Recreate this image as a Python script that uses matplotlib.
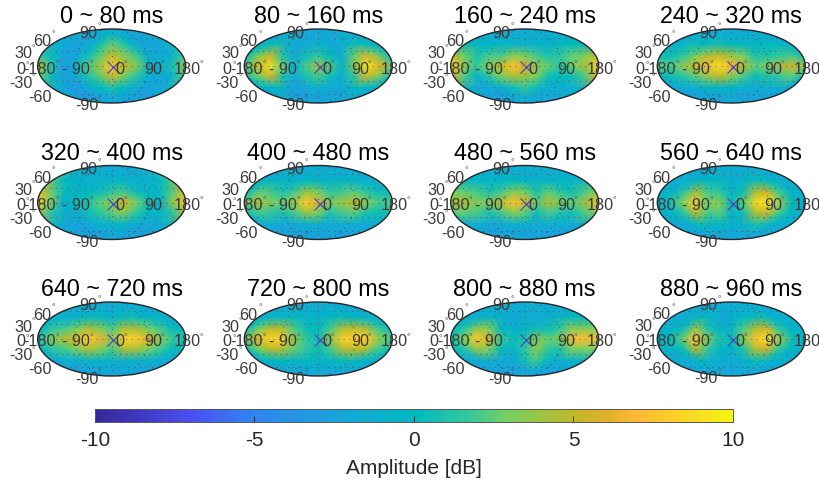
import numpy as np
import matplotlib
matplotlib.use("Agg")
import matplotlib.pyplot as plt
from matplotlib.colors import LinearSegmentedColormap

plt.rcParams['font.family'] = ['Liberation Sans', 'DejaVu Sans']
plt.rcParams['axes.unicode_minus'] = False

titles = ["0 ~ 80 ms", "80 ~ 160 ms", "160 ~ 240 ms", "240 ~ 320 ms",
          "320 ~ 400 ms", "400 ~ 480 ms", "480 ~ 560 ms", "560 ~ 640 ms",
          "640 ~ 720 ms", "720 ~ 800 ms", "800 ~ 880 ms", "880 ~ 960 ms"]
lon_deg = [-180, -150, -120, -90, -60, -30, 0, 30, 60, 90, 120, 150, 180]
lat_deg = [90, 70, 45, 20, 0, -20, -45, -70, -90]
lon_labels = ["-180", "- 90", "0", "90", "180"]
lat_labels = ["90", "60", "30", "0", "-30", "-60", "-90"]
cbar_ticks = [-10, -5, 0, 5, 10]
cbar_label = "Amplitude [dB]"

# one value per panel at each pole (dB)
pole_north = [-1.5, -1.5, -1.5, -1.5, -1.5, -1.5, -1.5, -1.5, -1.5, -1.5, -1.5, -1.5]
pole_south = [-2.0, -2.0, -2.0, -2.0, -2.0, -2.0, -2.0, -2.0, -2.0, -2.0, -2.0, -2.0]

amp_0_80 = [
 [-2,-2,-2,-2,-1.5,-1,-.5,-1,-1.5,-2,-2,-2,-2],
 [-1,-1.5,-2.5,-2,-1,1,2.5,1.5,-.5,-2,-2.5,-2,-1],
 [1.5,0,-2.5,-2,.5,2.5,5,3.5,2,-1,-2,-1,1.5],
 [5,1.5,-3,-1.5,2,4,8,5,3.5,0,-1,1,4],
 [2.5,0,-2.5,-2,1,2.5,5.5,3,1.5,-1,-2,-1,2],
 [-1,-2,-3,-2.5,-1,0,1,0,-1,-2,-2.5,-2,-1],
 [-2,-2.5,-3,-3,-2.5,-2,-2,-2,-2,-2.5,-2.5,-2.5,-2]]
amp_80_160 = [
 [-1.5,-1.5,-1.5,-2,-2,-2,-2,-2,-2,-1.5,-1.5,-1.5,-1.5],
 [-1,0,.5,-1.5,-2,-1.5,-1,-1.5,-2,-.5,.5,0,-1],
 [.5,3.5,5.5,1,-2,.5,1.5,0,-1.5,2.5,5.5,3.5,.5],
 [2,5,9,3,-1,2,4.5,2,-.5,4,9,6,2.5],
 [1,3,5.5,1,-2,1,2,.5,-1,1.5,5.5,3.5,1],
 [-1,-.5,0,-2,-2.5,-1.5,-1,-1.5,-2,-1,0,-.5,-1],
 [-2,-2,-2.5,-3,-3,-2.5,-2.5,-2.5,-2.5,-2.5,-2,-2,-2]]
amp_160_240 = [
 [-1.5,-1.5,-1.5,-1.5,-1.5,-1.5,-1.5,-1.5,-1.5,-1.5,-1.5,-1.5,-1.5],
 [0,0,-.5,-.5,-.5,-1,-1,-1,-.5,-.5,0,0,0],
 [5,2.5,1,2,2,3.5,3,2,1,1.5,2.5,3,5],
 [8,4,1.5,3,5,7.5,6,3.5,2.5,1.5,3,4.5,8.5],
 [5.5,2,-.5,1.5,3,4.5,4,3,.5,0,.5,2,6],
 [0,-1.5,-2.5,-1.5,-.5,.5,1.5,.5,-1,-1.5,-1.5,-1,0],
 [-2,-2.5,-2.5,-2.5,-2,-2,-1.5,-2,-2,-2,-2,-2,-2]]
amp_240_320 = [
 [-1.5,-1.5,-1.5,-1.5,-1.5,-1.5,-1.5,-1.5,-1.5,-1.5,-1.5,-1.5,-1.5],
 [-1,-.5,.5,0,.5,.5,0,0,-.5,-.5,0,-.5,-1],
 [.5,.5,1.5,3,4.5,5,4,3,1,1,1.5,2,1],
 [2.5,2,3.5,5,7,9,7,4.5,2.5,3,4.5,5.5,3.5],
 [0,.5,1.5,2.5,4,5,3.5,2,.5,1,1.5,2.5,1],
 [-2,-1.5,-1.5,-1,-.5,-.5,-.5,-1,-1.5,-1.5,-1.5,-1.5,-2],
 [-2.5,-2.5,-2.5,-2.5,-2.5,-2.5,-2,-2.5,-2.5,-2.5,-2.5,-2.5,-2.5]]
amp_320_400 = [
 [-1,-1.5,-1.5,-1.5,-1.5,-1.5,-1.5,-1.5,-1.5,-1.5,-1.5,-1.5,-1],
 [2.5,0,-.5,-1,-1,-1,-.5,-.5,-1,-1,-1,0,2],
 [6,2.5,0,-.5,0,.5,1.5,2,.5,-.5,-.5,2,5.5],
 [8.5,3.5,-1,0,1,2.5,3.5,5.5,3,.5,0,4,8],
 [4,1,-1.5,-1,.5,1.5,2.5,3.5,1.5,0,-.5,1,4],
 [-.5,-1.5,-2.5,-2.5,-1.5,-1,-1,-.5,-1,-2,-2,-1.5,-.5],
 [-2,-2.5,-2.5,-3,-2.5,-2.5,-2,-2,-2.5,-2.5,-2.5,-2.5,-2]]
amp_400_480 = [
 [-1.5,-1.5,-1.5,-1.5,-1.5,-1.5,-1.5,-1.5,-1.5,-1.5,-1.5,-1.5,-1.5],
 [-1,-.5,-.5,-1,-.5,0,-.5,-1,-.5,-.5,-1,-1,-1],
 [.5,2.5,2,1,2,4,3,1.5,2,2.5,1.5,.5,.5],
 [2.5,4.5,3.5,2.5,4,8,6,3,4,5,3,2,2],
 [.5,2,1.5,1,2,4,3,1,2,2.5,1,.5,.5],
 [-1.5,-1.5,-2,-2,-1.5,-1,-1,-2,-1.5,-1.5,-1.5,-1.5,-1.5],
 [-2.5,-2.5,-2.5,-2.5,-2.5,-2.5,-2.5,-2.5,-2.5,-2.5,-2.5,-2.5,-2.5]]
amp_480_560 = [
 [-1.5,-1.5,-1.5,-1.5,-1.5,-1.5,-1.5,-1.5,-1.5,-1.5,-1.5,-1.5,-1.5],
 [0,-.5,-.5,-.5,-.5,0,-.5,-1,-.5,-.5,-.5,-.5,0],
 [3,2.5,2,1,2,3.5,3,1,2.5,1.5,.5,2,3.5],
 [4.5,4.5,3.5,3,4.5,7.5,6,2.5,4.5,3,2.5,4.5,7],
 [2.5,2.5,2,1,2,3.5,2.5,.5,2,1,.5,2,3.5],
 [-1,-1.5,-2,-2,-1.5,-1,-1,-2,-1.5,-1.5,-1.5,-1.5,-1],
 [-2.5,-2.5,-2.5,-2.5,-2.5,-2.5,-2.5,-2.5,-2.5,-2.5,-2.5,-2.5,-2.5]]
amp_560_640 = [
 [-1.5,-1.5,-1.5,-1.5,-1.5,-1.5,-1.5,-1.5,-1.5,-1.5,-1.5,-1.5,-1.5],
 [-1.5,-1.5,-1,0,-.5,-.5,-1,-1,0,.5,-.5,-1,-1.5],
 [-1,-.5,1.5,4.5,2,1.5,-.5,.5,4.5,5.5,2,-.5,-1],
 [-.5,.5,3,8,3,3.5,.5,2.5,8.5,9.5,3.5,0,-.5],
 [-1,-.5,1.5,5,2,2.5,-.5,.5,4.5,5.5,2,-.5,-1],
 [-1.5,-1.5,-1,.5,-.5,0,-1,-1,.5,1,-.5,-1,-1.5],
 [-2,-2,-2,-2,-2,-2,-2,-2,-2,-2,-2,-2,-2]]
amp_640_720 = [
 [-1.5,-1.5,-1.5,-1.5,-1.5,-1.5,-1.5,-1.5,-1.5,-1.5,-1.5,-1.5,-1.5],
 [-1.5,-1,-1,-.5,0,-.5,-1,0,.5,0,-.5,-1,-1.5],
 [0,1.5,2,3,4.5,3.5,2,4.5,4.5,3,2,.5,0],
 [1,3,4.5,5.5,8,6.5,4,8.5,8,6,3.5,1.5,1],
 [0,1.5,2,3,4.5,3.5,2,4.5,4.5,3,2,.5,0],
 [-1.5,-1.5,-1,-1,-.5,-.5,-1,-1,-.5,-1,-1,-1.5,-1.5],
 [-2,-2.5,-2.5,-2.5,-2,-2,-2,-2.5,-2,-2,-2,-2.5,-2]]
amp_720_800 = [
 [-1.5,-1.5,-1.5,-1.5,-1.5,-1.5,-1.5,-1.5,-1.5,-1.5,-1.5,-1.5,-1.5],
 [-1,-.5,-.5,-.5,-.5,-.5,-.5,-.5,0,0,-.5,-1,-1],
 [.5,3,5,4.5,2,.5,0,2,4.5,5,4.5,2,.5],
 [2.5,6,8.5,8,4,1.5,.5,4,8,8.5,8,3.5,2],
 [.5,3,5,4.5,2.5,1.5,.5,2,4.5,5,4.5,2,.5],
 [-1,-.5,0,0,-.5,0,-.5,-.5,0,.5,0,-.5,-1],
 [-2,-2,-2,-2,-2,-1.5,-1.5,-2,-2,-2,-2,-2,-2]]
amp_800_880 = [
 [-1.5,-1.5,-1.5,-1.5,-1.5,-1.5,-1.5,-1.5,-1.5,-1.5,-1.5,-1.5,-1.5],
 [-1,-1,-.5,-1,-1.5,-2,-1.5,-1.5,-1.5,-1,-.5,0,-.5],
 [0,1.5,4,3,0,-1,-.5,.5,.5,1.5,3.5,3.5,3],
 [1,3,8,6,2,.5,1,3.5,2.5,3.5,7,7.5,7],
 [0,1.5,4,3,0,-.5,1.5,3.5,1.5,1,3,3,3],
 [-1.5,-1.5,-1,-1.5,-2,-1.5,.5,2,.5,-1,-1,-1,-1],
 [-2.5,-2.5,-2.5,-2.5,-2.5,-2.5,-2,-1.5,-2,-2.5,-2.5,-2.5,-2.5]]
amp_880_960 = [
 [-1.5,-1.5,-1.5,-1.5,-1.5,-1.5,-1.5,-1.5,-1.5,-1.5,-1.5,-1.5,-1.5],
 [-1.5,-1.5,-1,0,-1,-2,-1,-.5,0,.5,-.5,-1,-1.5],
 [-1,-.5,.5,4,1,-.5,-.5,2,4.5,5.5,1.5,-.5,-1],
 [-.5,0,2.5,7.5,3.5,1,.5,3.5,7.5,9,3.5,.5,-.5],
 [-1,-.5,.5,5,1.5,-.5,-.5,1,4.5,5.5,1.5,-.5,-1],
 [-1.5,-1.5,-1,0,-1,-1.5,-1.5,-1,0,.5,-.5,-1,-1.5],
 [-2,-2,-2,-2,-2,-2,-2,-2,-2,-2,-2,-2,-2]]

panels = [amp_0_80, amp_80_160, amp_160_240, amp_240_320,
          amp_320_400, amp_400_480, amp_480_560, amp_560_640,
          amp_640_720, amp_720_800, amp_800_880, amp_880_960]

cmap = LinearSegmentedColormap.from_list("amp", [
    (0.00, "#37279a"), (0.15, "#4a50f0"), (0.25, "#2f86f0"), (0.40, "#15a8d8"),
    (0.50, "#00b8c0"), (0.58, "#30c8a0"), (0.65, "#78d060"), (0.75, "#c0b828"),
    (0.80, "#e0b028"), (0.85, "#ffb835"), (0.95, "#f8e020"), (1.00, "#f5f510")])

W, H = 820, 485
fig = plt.figure(figsize=(W / 100, H / 100), dpi=100)

col_x = [111.7, 318.3, 524.7, 731.3]
row_y = [67, 203.5, 340]
AW, AH = 148, 74
INK = "#3a3a3a"

# pixel offsets from the panel centre (x right, y down)
lon_off = [(-71.7, 2), (-35.7, 2), (8.3, 2), (41.5, 2), (75.8, 2)]
lon_ring = [(-54, -5), (-20, -5), (14, -5), (51, -5), (90, -5)]
lat_off = [(-23, -34), (-70, -25), (-88, -13), (-91, 2), (-91, 16), (-72, 30), (-25, 39)]
lat_ring = [(-12, -43), (-58, -35), (-78, -21), (-84, -4), (-78, 8), (-12, 30)]

lon_rad = np.radians(lon_deg)
lat_rad = np.radians(lat_deg)

def label(ax, s, off, size=11.6, color=INK):
    ax.annotate(s, xy=(0.5, 0.5), xycoords='axes fraction', xytext=(off[0], -off[1]),
                textcoords='offset pixels', ha='center', va='center',
                fontsize=size, color=color, annotation_clip=False, zorder=6)

mesh = None
for i, vals in enumerate(panels):
    r, c = divmod(i, 4)
    cx, cy = col_x[c], row_y[r]
    ax = fig.add_axes([(cx - AW / 2) / W, 1 - (cy + AH / 2) / H, AW / W, AH / H],
                      projection='mollweide')
    ax.set_facecolor(cmap(0.42))
    Z = np.array([[pole_north[i]] * 13] + vals + [[pole_south[i]] * 13], dtype=float)
    LON, LAT = np.meshgrid(lon_rad, lat_rad)
    mesh = ax.pcolormesh(LON, LAT, Z, shading='gouraud', cmap=cmap, vmin=-10, vmax=10,
                         rasterized=True)
    ax.set_longitude_grid(90)
    ax.set_latitude_grid(30)
    ax.set_longitude_grid_ends(90)
    ax.grid(True, ls=(0, (1, 6)), lw=0.6, color='#333333')
    ax.set_xticklabels([])
    ax.set_yticklabels([])
    ax.tick_params(length=0)
    ax.spines['geo'].set_linewidth(1.0)
    ax.spines['geo'].set_edgecolor('#262626')
    ax.plot([np.radians(3)], [np.radians(-2)], marker='x', ms=9, mew=0.8, color='#3f3fc4',
            ls='none', zorder=5)
    ax.set_title(titles[i], fontsize=16.8, color='black', pad=5)
    for s, o in zip(lon_labels, lon_off):
        label(ax, s, o)
    for s, o in zip(lat_labels, lat_off):
        label(ax, s, o)
    for o in lon_ring + lat_ring:
        if cx + o[0] > W - 3:
            continue
        ax.annotate("°", xy=(0.5, 0.5), xycoords='axes fraction', xytext=(o[0], -o[1] - 5),
                    textcoords='offset pixels', ha='center', va='baseline', fontsize=6.5,
                    color='#555555', annotation_clip=False, zorder=6)

cax = fig.add_axes([95 / W, 1 - 423 / H, 638 / W, 13.5 / H])
cb = fig.colorbar(mesh, cax=cax, orientation='horizontal', ticks=cbar_ticks)
cb.solids.set_rasterized(True)
cb.ax.tick_params(direction='in', length=4, width=0.6, labelsize=15, colors='#262626', pad=6)
cb.outline.set_linewidth(0.7)
cb.outline.set_edgecolor('#555555')
cb.set_label(cbar_label, fontsize=15, color='#262626', labelpad=6)

fig.savefig("out.png", dpi=100)
